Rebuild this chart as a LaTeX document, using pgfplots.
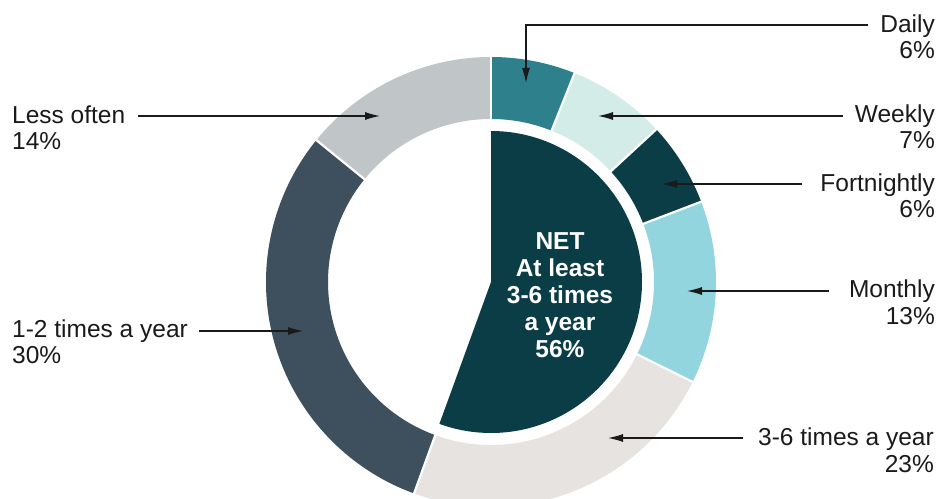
\documentclass[border=0pt]{standalone}
\usepackage{fontspec}
\setmainfont{Liberation Sans}
\usepackage{pgfplots}
\usepackage{pgfplotstable}
\pgfplotsset{compat=1.18}
\usetikzlibrary{calc,arrows.meta}

\definecolor{cDaily}{HTML}{2E808C}
\definecolor{cWeekly}{HTML}{D3ECE8}
\definecolor{cFortnightly}{HTML}{0B3D46}
\definecolor{cMonthly}{HTML}{93D5DF}
\definecolor{cThreeSix}{HTML}{E6E3E1}
\definecolor{cOneTwo}{HTML}{3E4F5E}
\definecolor{cLess}{HTML}{C0C5C7}
\definecolor{cNet}{HTML}{0B3D46}
\definecolor{txt}{HTML}{1A1A1A}

% ring: share of respondents by frequency (%), clockwise from 12 o'clock
\pgfplotstableread{
value col
6  cDaily
7  cWeekly
6  cFortnightly
13 cMonthly
23 cThreeSix
30 cOneTwo
14 cLess
}\ringdata

\begin{document}
\begin{tikzpicture}[font=\fontsize{24.5bp}{26bp}\selectfont]
\begin{axis}[
    hide axis,
    scale only axis,
    width=940bp, height=498bp,
    xmin=0, xmax=940, ymin=0, ymax=498,
    clip=false,
    ]
  \pgfplotsextra{
    \coordinate (C) at (axis cs:491,216);
    \def\total{0}
    \pgfplotsforeachungrouped \i in {0,...,6}{%
      \pgfplotstablegetelem{\i}{value}\of\ringdata
      \pgfmathsetmacro\total{\total+\pgfplotsretval}}
    % segments
    \def\cum{0}
    \pgfplotsforeachungrouped \i in {0,...,6}{%
      \pgfplotstablegetelem{\i}{value}\of\ringdata \let\segval\pgfplotsretval
      \pgfplotstablegetelem{\i}{col}\of\ringdata \let\segcol\pgfplotsretval
      \pgfmathsetmacro\sa{90-\cum/\total*360}
      \pgfmathsetmacro\cum{\cum+\segval}
      \pgfmathsetmacro\sb{90-\cum/\total*360}
      \fill[fill=\segcol] ($(C)+(\sa:225bp)$) arc[start angle=\sa, end angle=\sb, radius=225bp]
        -- ($(C)+(\sb:163bp)$) arc[start angle=\sb, end angle=\sa, radius=163bp] -- cycle;
      \ifnum\i=4 \let\netend\sb \fi
    }
    % white separators
    \def\cum{0}
    \pgfplotsforeachungrouped \i in {0,...,6}{%
      \pgfplotstablegetelem{\i}{value}\of\ringdata \let\segval\pgfplotsretval
      \pgfmathsetmacro\sa{90-\cum/\total*360}
      \pgfmathsetmacro\cum{\cum+\segval}
      \draw[white, line width=2.2bp] ($(C)+(\sa:160bp)$) -- ($(C)+(\sa:228bp)$);
    }
    % NET wedge: the first five categories
    \fill[cNet] (C) -- ($(C)+(90:151bp)$) arc[start angle=90, end angle=\netend, radius=151bp] -- cycle;
  }

  % NET text
  \begin{scope}[every node/.style={inner sep=0pt, anchor=base, text=white, font=\fontsize{24.5bp}{26bp}\selectfont\bfseries}]
    \node at (axis cs:560,248) {NET};
    \node at (axis cs:560,221) {At least};
    \node at (axis cs:560,195) {3-6 times};
    \node at (axis cs:560,168) {a year};
    \node at (axis cs:560,141) {56\%};
  \end{scope}

  % leaders
  \begin{scope}[line width=1.2bp, txt, -{Latex[length=15bp,width=8bp]}]
    \draw (axis cs:868,473) -- (axis cs:526,473) -- (axis cs:526,415);
    \draw (axis cs:843,382) -- (axis cs:598,382);
    \draw (axis cs:802,314) -- (axis cs:662,314);
    \draw (axis cs:829,207) -- (axis cs:687,207);
    \draw (axis cs:743,60) -- (axis cs:608,60);
    \draw (axis cs:199,167) -- (axis cs:303,167);
    \draw (axis cs:138,382) -- (axis cs:380,382);
  \end{scope}

  % labels
  \begin{scope}[every node/.style={inner sep=0pt, anchor=base east, text=txt}]
    \node at (axis cs:935,465) {Daily};
    \node at (axis cs:935,439) {6\%};
    \node at (axis cs:935,375) {Weekly};
    \node at (axis cs:935,349) {7\%};
    \node at (axis cs:935,306) {Fortnightly};
    \node at (axis cs:935,280) {6\%};
    \node at (axis cs:935,201) {Monthly};
    \node at (axis cs:935,174) {13\%};
    \node at (axis cs:934,53) {3-6 times a year};
    \node at (axis cs:934,26) {23\%};
  \end{scope}
  \begin{scope}[every node/.style={inner sep=0pt, anchor=base west, text=txt}]
    \node at (axis cs:12,374) {Less often};
    \node at (axis cs:12,348) {14\%};
    \node at (axis cs:12,161) {1-2 times a year};
    \node at (axis cs:12,135) {30\%};
  \end{scope}
\end{axis}
\pgfresetboundingbox
\path (current axis.south west) rectangle (current axis.north east);
\end{tikzpicture}
\end{document}
